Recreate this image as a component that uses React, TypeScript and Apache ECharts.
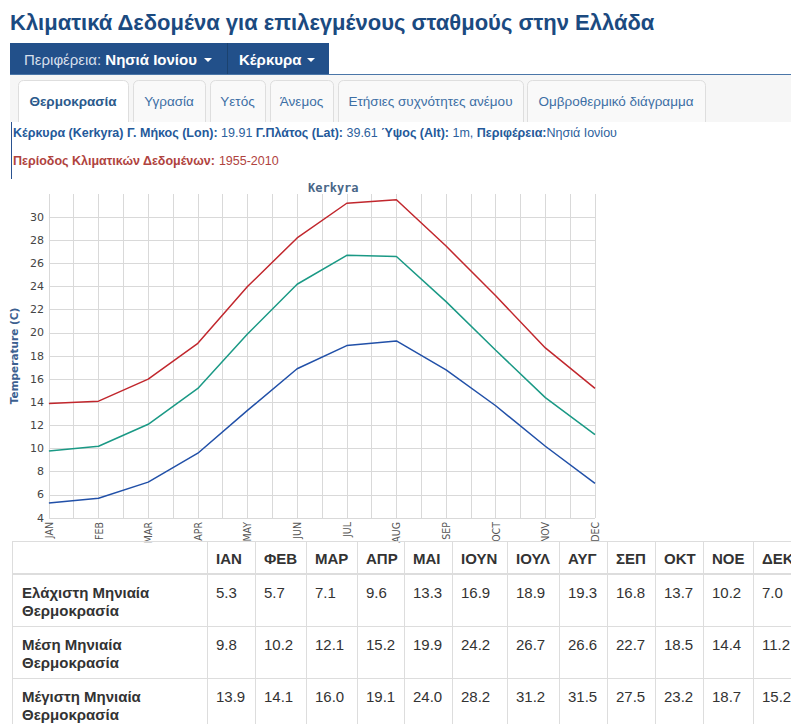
import React, { useEffect, useRef } from "react";
import * as echarts from "echarts";

const chartTitle = "Kerkyra";
const pageTitle = "Κλιματικά Δεδομένα για επιλεγμένους σταθμούς στην Ελλάδα";
const monthsEn = ["JAN", "FEB", "MAR", "APR", "MAY", "JUN", "JUL", "AUG", "SEP", "OCT", "NOV", "DEC"];
const monthsGr = ["ΙΑΝ", "ΦΕΒ", "ΜΑΡ", "ΑΠΡ", "ΜΑΙ", "ΙΟΥΝ", "ΙΟΥΛ", "ΑΥΓ", "ΣΕΠ", "ΟΚΤ", "ΝΟΕ", "ΔΕΚ"];
const minTemp = [5.3, 5.7, 7.1, 9.6, 13.3, 16.9, 18.9, 19.3, 16.8, 13.7, 10.2, 7.0];
const meanTemp = [9.8, 10.2, 12.1, 15.2, 19.9, 24.2, 26.7, 26.6, 22.7, 18.5, 14.4, 11.2];
const maxTemp = [13.9, 14.1, 16.0, 19.1, 24.0, 28.2, 31.2, 31.5, 27.5, 23.2, 18.7, 15.2];
const rowLabels = [
  ["Ελάχιστη Μηνιαία", "Θερμοκρασία"],
  ["Μέση Μηνιαία", "Θερμοκρασία"],
  ["Μέγιστη Μηνιαία", "Θερμοκρασία"],
];
const tabs = ["Θερμοκρασία", "Υγρασία", "Υετός", "Άνεμος", "Ετήσιες συχνότητες ανέμου", "Ομβροθερμικό διάγραμμα"];
const yMin = 4;
const yMax = 32;
const yStep = 2;

const FONT = "'Liberation Sans', Arial, sans-serif";

export default function App() {
  const ref = useRef<HTMLDivElement>(null);
  useEffect(() => {
    document.body.style.margin = "0";
    const chart = echarts.init(ref.current!, null, { renderer: "svg" });
    const g: any[] = [];
    const txt = (x: number, y: number, text: string, o: any = {}) =>
      g.push({
        type: "text",
        x,
        y,
        z: 10,
        style: {
          text,
          fill: o.fill || "#333",
          fontSize: o.size || 13,
          fontWeight: o.weight || "normal",
          fontFamily: o.family || FONT,
          align: o.align || "left",
          verticalAlign: "middle",
          rich: o.rich,
        },
      });
    const rect = (x: number, y: number, w: number, h: number, style: any, r: any = 0) =>
      g.push({ type: "rect", shape: { x, y, width: w, height: h, r }, style, z: 1 });
    const hline = (x1: number, x2: number, y: number, stroke: string, lw = 1) =>
      g.push({ type: "line", shape: { x1, y1: y, x2, y2: y }, style: { stroke, lineWidth: lw }, z: 2 });
    const vline = (x: number, y1: number, y2: number, stroke: string, lw = 1) =>
      g.push({ type: "line", shape: { x1: x, y1, x2: x, y2 }, style: { stroke, lineWidth: lw }, z: 2 });

    // page title
    txt(10, 22, pageTitle, { size: 22, weight: "bold", fill: "#1b4a80" });

    // navbar
    rect(10, 43, 319, 31, { fill: "#22508a" });
    vline(227.5, 43, 74, "#1b426f");
    txt(24, 59, "{a|Περιφέρεια: }{b|Νησιά Ιονίου}", {
      rich: {
        a: { fontSize: 15, fill: "#d6dfeb", fontFamily: FONT },
        b: { fontSize: 15, fill: "#ffffff", fontWeight: "bold", fontFamily: FONT },
      },
    });
    g.push({ type: "polygon", shape: { points: [[204, 58], [212, 58], [208, 62]] }, style: { fill: "#ffffff" }, z: 3 });
    txt(239, 59, "Κέρκυρα", { size: 15, weight: "bold", fill: "#ffffff" });
    g.push({ type: "polygon", shape: { points: [[307, 58], [315, 58], [311, 62]] }, style: { fill: "#ffffff" }, z: 3 });
    hline(10, 791, 74.5, "#4a76a8", 1);

    // tabs band
    rect(10, 75, 781, 47, { fill: "#f6f6f6" });
    const tabX = [[18, 128], [133, 205], [210, 265], [270, 333], [338, 523], [527, 705]];
    tabs.forEach((t, i) => {
      const [a, b] = tabX[i];
      rect(a + 0.5, 80.5, b - a, 42, { fill: i === 0 ? "#ffffff" : "#f9f9f9", stroke: "#dedede", lineWidth: 1 }, [5, 5, 0, 0]);
      txt((a + b) / 2, 101, t, {
        size: 13.5,
        weight: i === 0 ? "bold" : "normal",
        fill: i === 0 ? "#2b5a8c" : "#3d6fa5",
        align: "center",
      });
    });
    rect(10, 122, 781, 60, { fill: "#ffffff" });
    vline(11.5, 122, 179, "#2a5290", 1);

    // info lines
    const bl = { fontSize: 12.5, fontWeight: "bold", fill: "#24599a", fontFamily: FONT };
    const nm = { fontSize: 12.5, fill: "#2d5f9c", fontFamily: FONT };
    txt(
      13,
      133,
      "{b|Κέρκυρα (Kerkyra) Γ. Μήκος (Lon):}{n| 19.91 }{b|Γ.Πλάτος (Lat):}{n| 39.61 }{b|Ύψος (Alt):}{n| 1m, }{b|Περιφέρεια:}{n|Νησιά Ιονίου}",
      { rich: { b: bl, n: nm } }
    );
    txt(13, 161, "{b|Περίοδος Κλιματικών Δεδομένων:}{n| 1955-2010}", {
      rich: {
        b: { fontSize: 12.5, fontWeight: "bold", fill: "#b0433e", fontFamily: FONT },
        n: { fontSize: 12.5, fill: "#b0433e", fontFamily: FONT },
      },
    });

    // table
    const colX = [12, 207, 255, 306, 357, 404, 452, 507, 559, 607, 655, 703, 753, 801];
    const rowY = [541, 574, 626, 678, 730];
    const tableRows = [minTemp, meanTemp, maxTemp];
    hline(12, 801, rowY[0] + 0.5, "#dddddd");
    hline(12, 801, rowY[1], "#dddddd", 2);
    hline(12, 801, rowY[2] + 0.5, "#dddddd");
    hline(12, 801, rowY[3] + 0.5, "#dddddd");
    colX.forEach((x) => vline(x + 0.5, rowY[0], 724, "#dddddd"));
    monthsGr.forEach((m, i) => txt(colX[i + 1] + 9, 558, m, { size: 15, weight: "bold", fill: "#333333" }));
    tableRows.forEach((vals, r) => {
      const y0 = rowY[r + 1];
      txt(22, y0 + 18, rowLabels[r][0], { size: 15, weight: "bold", fill: "#333333" });
      txt(22, y0 + 36, rowLabels[r][1], { size: 15, weight: "bold", fill: "#333333" });
      vals.forEach((v, i) => txt(colX[i + 1] + 9, y0 + 18, v.toFixed(1), { size: 15, fill: "#333333" }));
    });

    const nLines = (yMax - yMin) / yStep + 1;
    const splitColors = Array.from({ length: nLines }, (_, i) => (i === nLines - 1 ? "rgba(0,0,0,0)" : "#d9d9d9"));
    const toPts = (arr: number[]) => arr.map((v, i) => [i, v]);

    chart.setOption({
      animation: false,
      title: {
        text: chartTitle,
        left: 303,
        top: 177,
        textStyle: { fontSize: 12, fontWeight: "bold", color: "#4a6788", fontFamily: "'DejaVu Sans Mono', monospace" },
      },
      grid: { left: 44, top: 194, width: 551, height: 324, containLabel: false },
      xAxis: {
        type: "value",
        min: 0,
        max: monthsEn.length - 1,
        interval: 0.5,
        axisLine: { show: false },
        axisTick: { show: false },
        splitLine: { show: true, lineStyle: { color: "#d9d9d9", width: 1 } },
        axisLabel: {
          rotate: 90,
          margin: 4,
          fontSize: 10.5,
          color: "#555555",
          fontFamily: "'DejaVu Sans Condensed', 'DejaVu Sans', sans-serif",
          formatter: (v: number) => (Number.isInteger(v) ? monthsEn[v] : ""),
        },
      },
      yAxis: {
        type: "value",
        min: yMin,
        max: yMax,
        interval: yStep,
        name: "Temperature (C)",
        nameLocation: "middle",
        nameRotate: 90,
        nameGap: 24,
        nameTextStyle: { fontSize: 10.5, fontWeight: "bold", color: "#3c6090", fontFamily: "'DejaVu Sans', sans-serif" },
        axisLine: { show: false },
        axisTick: { show: false },
        splitLine: { show: true, lineStyle: { color: splitColors, width: 1 } },
        axisLabel: {
          showMaxLabel: false,
          margin: 5,
          fontSize: 11,
          color: "#444444",
          fontFamily: "'DejaVu Sans', sans-serif",
        },
      },
      series: [
        { type: "line", data: toPts(maxTemp), symbol: "none", lineStyle: { color: "#c1272d", width: 1.5 } },
        { type: "line", data: toPts(meanTemp), symbol: "none", lineStyle: { color: "#1a9985", width: 1.5 } },
        { type: "line", data: toPts(minTemp), symbol: "none", lineStyle: { color: "#2150a8", width: 1.5 } },
      ],
      graphic: { elements: g },
    });
    return () => chart.dispose();
  }, []);
  return <div ref={ref} style={{ width: 791, height: 724, background: "#ffffff" }} />;
}
